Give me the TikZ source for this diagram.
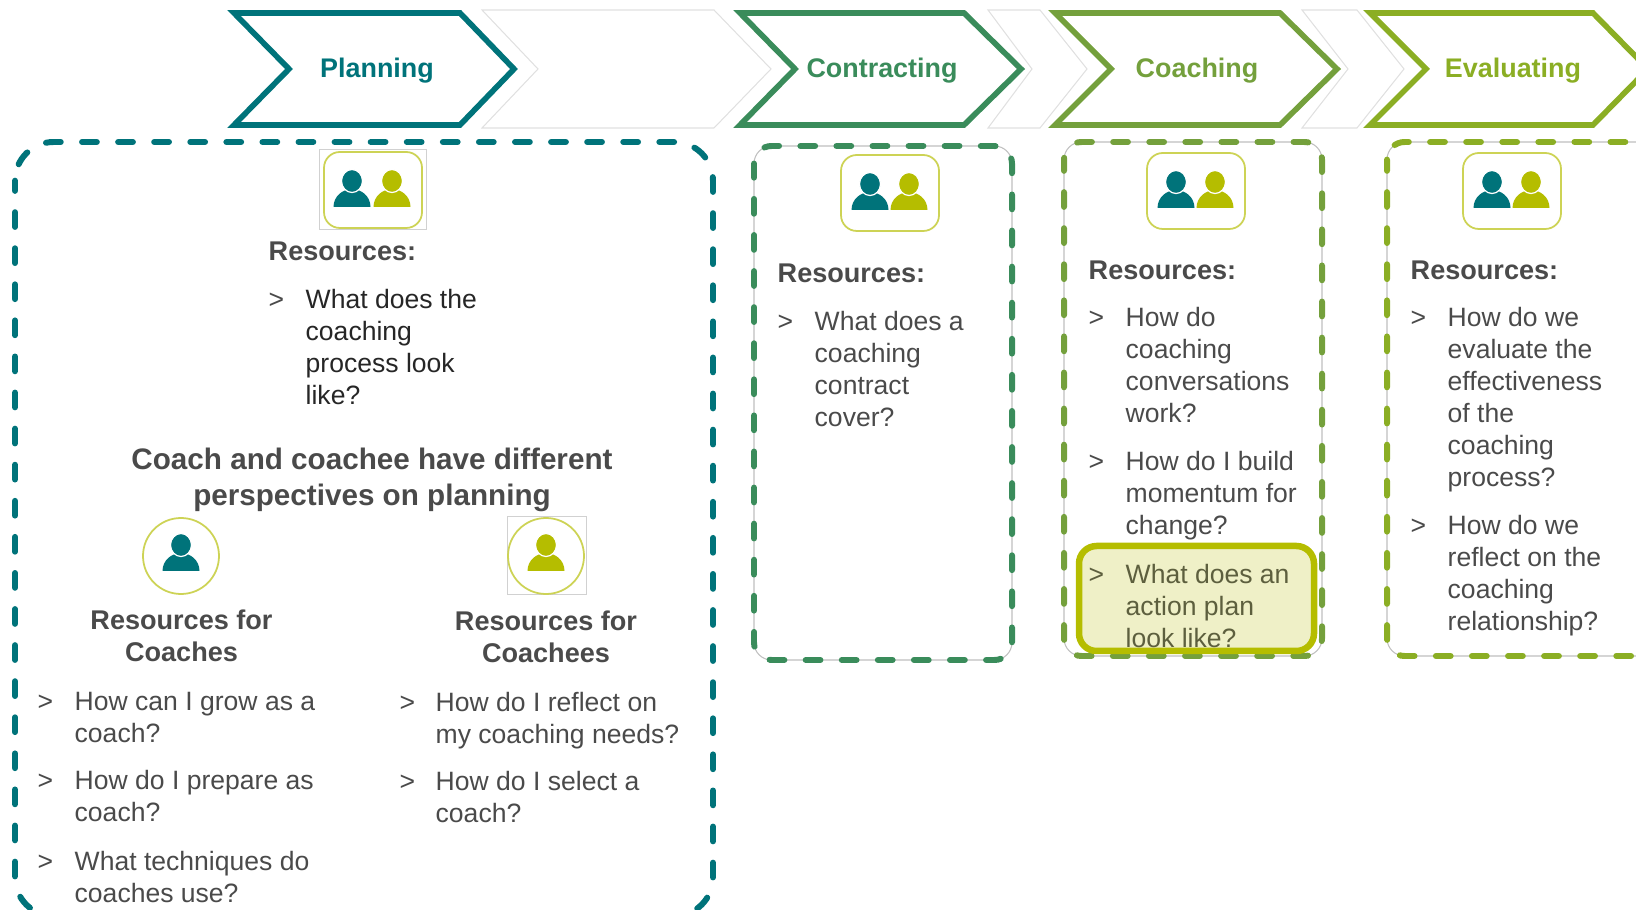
\documentclass[tikz,border=0pt]{standalone}
\usepackage{fontspec}
\setmainfont{Liberation Sans}
\definecolor{tealc}{HTML}{00737A}
\definecolor{contractc}{HTML}{3A8C5B}
\definecolor{coachc}{HTML}{74A03C}
\definecolor{evalc}{HTML}{8BAE24}
\definecolor{yellowc}{HTML}{B5BD00}
\definecolor{iconline}{HTML}{CDD355}
\definecolor{darktext}{HTML}{4A4A4A}
\definecolor{hilitetext}{HTML}{5D5F3E}
\tikzset{
  chevron/.style={line width=1.6pt,miter limit=10},
  blankchevron/.style={draw=black!12,line width=0.3pt},
  dashbox/.style={line width=1.7pt,line cap=round,dash pattern=on 4.2pt off 6.06pt},
  thinbox/.style={draw=black!25,line width=0.3pt,rounded corners=5pt},
  iconbox/.style={draw=iconline,line width=0.5pt,fill=white},
  iconframe/.style={draw=black!18,line width=0.25pt},
  steplabel/.style={font=\fontsize{7.65}{9.1}\selectfont\bfseries},
  restitle/.style={anchor=north west,inner sep=0pt,text=darktext,font=\fontsize{7.7}{9.1}\selectfont\bfseries},
  subtitle/.style={anchor=north,inner sep=0pt,align=center,text=darktext,font=\fontsize{7.7}{9.1}\selectfont\bfseries},
  qtext/.style={anchor=north west,inner sep=0pt,align=left,text=darktext,font=\fontsize{7.55}{9.1}\selectfont},
  person/.pic={
    \fill[#1] (-18.5,26)..controls (-18.5,15) and (-9,8)..(0,8)..controls (9,8) and (18.5,15)..(18.5,26)--cycle;
    \draw[fill=#1,draw=white,line width=0.35pt] (0,0) ellipse (10.5 and 11.5);
  }
}
\begin{document}
\begin{tikzpicture}[x=0.01cm,y=-0.01cm]
\useasboundingbox (0,0) rectangle (1636,910);
\clip (0,0) rectangle (1636,910);

% light chevrons between the steps
\draw[blankchevron] (482,10)--(714,10)--(771,69)--(714,128)--(482,128)--(538,69)--cycle;
\draw[blankchevron] (988,10)--(1040,10)--(1087,69)--(1040,128)--(988,128)--(1032,69)--cycle;
\draw[blankchevron] (1302,10)--(1357,10)--(1404,69)--(1357,128)--(1302,128)--(1348,69)--cycle;

% steps
\draw[chevron,draw=tealc] (234,13)--(460,13)--(514,69)--(460,125)--(234,125)--(289,69)--cycle;
\draw[chevron,draw=contractc] (740,13)--(964,13)--(1021,69)--(964,125)--(740,125)--(795,69)--cycle;
\draw[chevron,draw=coachc] (1055,13)--(1280,13)--(1337,69)--(1280,125)--(1055,125)--(1111,69)--cycle;
\draw[chevron,draw=evalc] (1370,13)--(1593,13)--(1648,69)--(1593,125)--(1370,125)--(1426,69)--cycle;
\node[steplabel,text=tealc] (planning) at (377,71) {Planning};
\node[steplabel,text=contractc] (contracting) at (882,71) {Contracting};
\node[steplabel,text=coachc] (coaching) at (1197,71) {Coaching};
\node[steplabel,text=evalc] (evaluating) at (1513,71) {Evaluating};

% dashed boxes
\draw[dashbox,draw=tealc,rounded corners=11pt,dash phase=1.3pt] (15,142) rectangle (713,916);
\draw[thinbox] (754,146) rectangle (1012,660);
\draw[dashbox,draw=contractc,rounded corners=5pt,dash phase=0.2pt] (754,146) rectangle (1012,660);
\draw[thinbox] (1064,142) rectangle (1322,656);
\draw[dashbox,draw=coachc,rounded corners=5pt,dash phase=1pt] (1064,142) rectangle (1322,656);
\draw[thinbox] (1387,142) rectangle (1660,656);
\draw[dashbox,draw=evalc,rounded corners=5pt,dash phase=1pt] (1387,142) rectangle (1660,656);

% icons
\draw[iconframe] (319,149) rectangle (426,229);
\draw[iconbox,rounded corners=4.5pt] (324,152) rectangle (422,228);
\pic at (352,181) {person=tealc};
\pic at (392,181) {person=yellowc};
\foreach \x/\y in {841/155,1147/153,1463/153}{
  \draw[iconbox,rounded corners=4.5pt] (\x,\y) rectangle (\x+98,\y+76);
  \pic at (\x+29,\y+29) {person=tealc};
  \pic at (\x+68,\y+29) {person=yellowc};
}
\draw[iconbox] (181,556) circle (38);
\pic at (181,545) {person=tealc};
\draw[iconframe] (507,516) rectangle (586,594);
\draw[iconbox] (546,556) circle (38);
\pic at (546,545) {person=yellowc};

% highlighted question
\draw[line width=1.85pt,draw=yellowc,fill=yellowc!22,rounded corners=5pt] (1079,546) rectangle (1314,651);

% planning texts
\node[restitle] (planres) at (268,237) {\strut Resources:};
\node[qtext] (planbul) at (268,285) {\strut >};
\node[qtext,text=black!85] (planq) at (305,285) {\strut What does the\\coaching\\process look\\like?};
\node[subtitle,font=\fontsize{8.43}{10.1}\selectfont\bfseries] (perspective) at (372,444) {\strut Coach and coachee have different\\perspectives on planning};
\node[subtitle] (forcoach) at (181.5,606) {\strut Resources for\\Coaches};
\node[subtitle] (forcoachee) at (546,607) {\strut Resources for\\Coachees};
\foreach \y/\name/\txt in {687/a/{How can I grow as a\\coach?},766/b/{How do I prepare as\\coach?},847/c/{What techniques do\\coaches use?}}{
  \node[qtext] (coachbul\name) at (37,\y) {\strut >};
  \node[qtext] (coachq\name) at (74,\y) {\strut \txt};
}
\foreach \y/\name/\txt in {688/a/{How do I reflect on\\my coaching needs?},767/b/{How do I select a\\coach?}}{
  \node[qtext] (coacheebul\name) at (399,\y) {\strut >};
  \node[qtext] (coacheeq\name) at (435,\y) {\strut \txt};
}

% contracting texts
\node[restitle] (contres) at (777,259) {\strut Resources:};
\node[qtext] (contbul) at (777,307) {\strut >};
\node[qtext] (contq) at (814,307) {\strut What does a\\coaching\\contract\\cover?};

% coaching texts
\node[restitle] (coachres) at (1088,256) {\strut Resources:};
\foreach \y/\name/\txt in {303/a/{How do\\coaching\\conversations\\work?},447/b/{How do I build\\momentum for\\change?}}{
  \node[qtext] (stepbul\name) at (1088,\y) {\strut >};
  \node[qtext] (stepq\name) at (1125,\y) {\strut \txt};
}
\node[qtext,text=hilitetext] (planbulc) at (1088,560) {\strut >};
\node[qtext,text=hilitetext] (planqc) at (1125,560) {\strut What does an\\action plan\\look like?};

% evaluating texts
\node[restitle] (evalres) at (1410,256) {\strut Resources:};
\foreach \y/\name/\txt in {303/a/{How do we\\evaluate the\\effectiveness\\of the\\coaching\\process?},511/b/{How do we\\reflect on the\\coaching\\relationship?}}{
  \node[qtext] (evalbul\name) at (1410,\y) {\strut >};
  \node[qtext] (evalq\name) at (1447,\y) {\strut \txt};
}
\end{tikzpicture}
\end{document}
